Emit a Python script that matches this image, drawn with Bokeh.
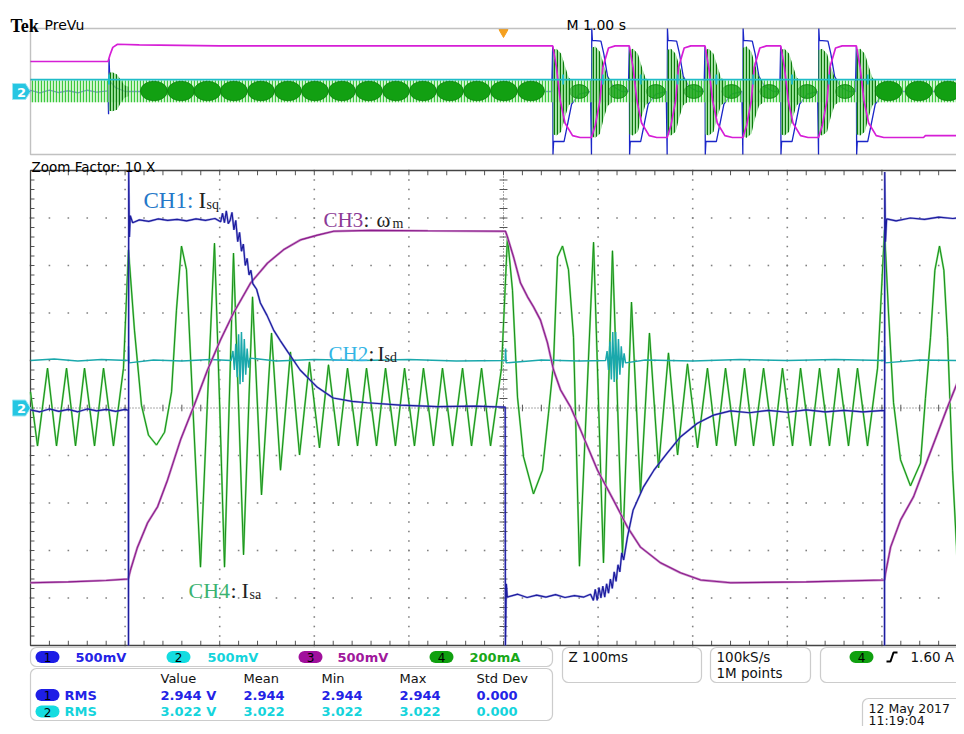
import numpy as np
from bokeh.plotting import figure
from bokeh.models import Range1d, BoxAnnotation
from bokeh.embed import file_html
from bokeh.resources import INLINE
from bokeh.core.properties import value

# ======================= DATA =======================
# Zoom window (Z 100 ms/div): time in ms from the left graticule edge, value in divisions
CH1_MAIN = [
    (0, -0.04), (10, -0.08), (20, -0.02), (30, -0.07), (40, -0.03), (50, -0.08), (60, -0.02), (70, -0.06),
    (80, -0.03), (90, -0.07), (100, -0.03), (103.4, -0.05),
    (103.6, -5.0), (103.8, 4.97), (104.6, 3.6), (105.5, 4.05), (108, 3.9), (115, 3.96), (125, 3.93), (135, 3.98),
    (145, 3.95), (155, 3.97), (165, 3.94), (175, 3.98), (185, 3.95), (195, 3.99),
    (201, 3.92), (203, 4.1), (205, 3.9), (207, 4.15), (209, 3.88), (211, 3.95), (213, 4.12), (215, 3.75),
    (217, 3.95), (219, 3.5), (221, 3.7), (223, 3.3), (225, 3.45), (227, 3.0), (229, 3.15), (231, 2.8),
    (233, 2.9), (235, 2.62), (239, 2.5), (243, 2.21), (250, 1.95), (257, 1.64), (264, 1.42), (272, 1.18),
    (285, 0.80), (303, 0.44), (320, 0.21), (340, 0.14), (356, 0.11), (391, 0.06), (430, 0.03), (470, 0.04),
    (501.8, 0.02),
    (502.0, -5.0), (503.0, -3.7), (504, -3.98), (515, -3.92), (525, -3.99), (535, -3.94), (545, -3.98),
    (555, -3.93), (565, -3.99), (575, -3.95), (585, -3.98), (592, -3.92),
    (595, -4.05), (597, -3.82), (599, -4.05), (601, -3.78), (603, -4.0), (605, -3.75), (607, -3.98),
    (609, -3.7), (611, -3.9), (613, -3.6), (615, -3.8), (617, -3.45), (619, -3.65), (621, -3.3), (623, -3.45),
    (625, -3.05), (627, -3.2), (631, -2.72), (637, -2.15), (648, -1.66), (659, -1.31), (673, -0.95),
    (687, -0.61), (705, -0.32), (722, -0.15), (740, -0.06), (760, -0.1), (780, -0.05), (800, -0.09),
    (820, -0.04), (840, -0.08), (860, -0.05), (880, -0.08), (902.6, -0.05),
    (902.8, -5.0), (903.0, 4.97), (903.8, 3.5), (905, 3.98), (915, 3.94), (930, 4.0), (945, 3.97),
    (960, 4.02), (975, 3.99), (990, 4.02),
]
CH2_MAIN = [
    (0, 1.0), (25, 1.03), (50, 0.99), (75, 1.02), (103.4, 1.0), (103.6, 1.3), (104.2, 0.95), (130, 1.01),
    (160, 0.99), (190, 1.02), (212, 1.0),
    (214, 1.2), (215.5, 0.8), (217, 1.35), (218.5, 0.65), (220, 1.55), (221.5, 0.5), (223, 1.6), (224.5, 0.55),
    (226, 1.45), (227.5, 0.7), (229, 1.25), (230.5, 0.85), (232, 1.05),
    (260, 0.99), (300, 1.02), (350, 1.0), (400, 1.02), (450, 0.99), (501.8, 1.0), (502.2, 1.25), (502.8, 0.95),
    (540, 1.01), (580, 0.99), (608, 1.0),
    (609.5, 1.2), (611, 0.8), (612.5, 1.4), (614, 0.6), (615.5, 1.6), (617, 0.55), (618.5, 1.6), (620, 0.6),
    (621.5, 1.45), (623, 0.7), (624.5, 1.3), (626, 0.85), (627.5, 1.15), (629, 0.95),
    (650, 1.01), (700, 0.99), (750, 1.02), (800, 1.0), (850, 1.02), (902.6, 1.0), (902.8, 1.3), (903.4, 0.95),
    (940, 1.01), (990, 1.0),
]
CH3_MAIN = [
    (0, -3.68), (40, -3.66), (80, -3.63), (103.4, -3.6),
    (105.7, -3.41), (113.1, -2.93), (123.7, -2.42), (134.3, -2.08), (144.8, -1.52), (158.6, -0.67),
    (172.3, 0.02), (187.1, 0.80), (200.8, 1.43), (214.6, 2.0), (232.6, 2.63), (250.5, 3.05), (267.4, 3.33),
    (285.4, 3.54), (303.4, 3.64), (320.3, 3.72), (360, 3.74), (420, 3.73), (502.1, 3.72),
    (504.2, 3.60), (510.6, 3.18), (518, 2.63), (525.4, 2.34), (531.7, 2.13), (539.1, 1.85), (546.5, 1.37),
    (552.9, 0.80), (560.3, 0.38), (570.9, 0.02), (581.4, -0.46), (599.4, -1.31), (616.3, -1.94),
    (631.1, -2.51), (644.8, -2.93), (666, -3.26), (687.1, -3.47), (708.3, -3.62), (740, -3.68),
    (820, -3.66), (902.8, -3.62),
    (903.9, -3.47), (909.2, -2.93), (919.7, -2.36), (933.4, -1.87), (948.2, -1.09), (969.4, 0.02), (986.3, 0.86),
]
CH4_MAIN = [
    (0, 0.34), (7.4, -0.80), (18.0, 0.84), (27.5, -0.80), (38.1, 0.84), (47.6, -0.80), (57.1, 0.84),
    (67.7, -0.80), (77.2, 0.84), (87.7, -0.80), (98.3, 0.84),
    (103.6, 3.33), (109.9, 1.64), (117.3, 0.06), (124.7, -0.57), (133.2, -0.78), (141.7, -0.51), (149.1, 0.34),
    (154.3, 2.06), (159.6, 3.41), (164.9, 2.91), (171.3, 0.17), (179.7, -3.35), (187.1, 0.17), (194.5, 3.47),
    (199.8, 0.17), (205.1, -3.35), (214.6, 3.26), (225.2, -3.09), (234.7, 2.34), (244.2, -1.83),
    (254.8, 1.58), (264.3, -1.31), (274.8, 1.18), (284.4, -0.99), (294.9, 0.97), (305.5, -0.84), (315.0, 0.91),
    (325.6, -0.80), (335.1, 0.84), (345.7, -0.80), (355.2, 0.84), (365.8, -0.80), (375.3, 0.84),
    (385.8, -0.80), (395.4, 0.84), (405.9, -0.80), (415.4, 0.84), (426.0, -0.80), (435.5, 0.84),
    (446.1, -0.80), (456.7, 0.84), (466.2, -0.80), (476.8, 0.84), (486.3, -0.80), (497.9, 0.84),
    (504.2, 3.60), (509.5, 2.48), (514.8, 0.23), (521.2, -1.03), (531.7, -1.81), (541.2, -1.31),
    (547.6, -0.11), (552.9, 0.95), (557.1, 3.18), (562.4, 3.41), (568.7, 2.91), (574.0, 1.49), (580.3, -3.33),
    (595.2, 3.49), (605.7, -3.26), (615.2, 3.31), (625.8, -3.09), (635.3, 2.23), (644.8, -1.79),
    (654.3, 1.58), (663.9, -1.26), (674.4, 1.16), (684.0, -0.99), (694.5, 0.93), (705.1, -0.84), (715.6, 0.84),
    (725.2, -0.80), (734.7, 0.84), (745.3, -0.80), (754.8, 0.84), (764.3, -0.80), (774.9, 0.84),
    (785.4, -0.80), (794.9, 0.84), (805.5, -0.80), (814.0, 0.84), (824.5, -0.80), (834.1, 0.84),
    (844.6, -0.80), (854.1, 0.84), (864.7, -0.80), (874.2, 0.84), (884.8, -0.80), (895.4, 0.84),
    (902.8, 3.75), (907.0, 2.0), (912.3, 0.11), (919.7, -1.09), (930.2, -1.64), (940.8, -1.16), (946.0, 0.2),
    (951.4, 1.49), (956.0, 2.9), (960.9, 3.41), (965.5, 2.9), (969.4, 1.49), (974.7, -1.31), (980.0, -3.35),
    (986.3, -2.0),
]

# PreVu record (M 1.00 s/div): time in s, value in divisions
P_CH3 = [
    (0, 2.38), (0.82, 2.38), (0.84, 2.9), (0.87, 3.5), (0.92, 3.75), (1.15, 3.7), (2.0, 3.62), (5.52, 3.62),
    (5.56, 1.9), (5.60, -0.7), (5.65, -2.5), (5.73, -3.5), (5.81, -3.65), (5.93, -3.65),
    (5.97, -2.7), (6.02, -0.7), (6.05, 1.9), (6.11, 3.45), (6.18, 3.62), (6.33, 3.62),
    (6.37, 1.9), (6.41, -0.7), (6.46, -2.5), (6.54, -3.5), (6.62, -3.65), (6.73, -3.65),
    (6.77, -2.7), (6.82, -0.7), (6.85, 1.9), (6.91, 3.45), (6.98, 3.62), (7.13, 3.62),
    (7.17, 1.9), (7.21, -0.7), (7.26, -2.5), (7.34, -3.5), (7.42, -3.65), (7.53, -3.65),
    (7.57, -2.7), (7.62, -0.7), (7.65, 1.9), (7.71, 3.45), (7.78, 3.62), (7.93, 3.62),
    (7.97, 1.9), (8.01, -0.7), (8.06, -2.5), (8.14, -3.5), (8.22, -3.65), (8.33, -3.65),
    (8.37, -2.7), (8.42, -0.7), (8.45, 1.9), (8.51, 3.45), (8.58, 3.62), (8.73, 3.62),
    (8.77, 1.9), (8.81, -0.7), (8.86, -2.5), (8.94, -3.5), (9.02, -3.65), (9.44, -3.65), (9.46, -3.5), (10.3, -3.5),
]
P_CH1 = [
    (0, 0.08), (0.1, -0.1), (0.2, 0.1), (0.3, -0.08), (0.4, 0.06), (0.5, -0.1), (0.6, 0.1), (0.7, -0.05),
    (0.82, 0.05), (0.825, -1.8), (0.83, 2.6), (0.84, 0.8), (0.9, 0.3), (1.0, 0.0), (5.51, 0.0),
    (5.52, 3.6), (5.523, -5.0), (5.53, -3.97), (5.64, -3.97), (5.68, -2.5), (5.72, -1.0), (5.8, -0.2), (5.92, 0.0),
    (5.93, -5.0), (5.933, 5.0), (5.94, 4.05), (6.03, 4.0), (6.06, 3.0), (6.1, 1.2), (6.16, 0.4), (6.25, 0.0), (6.32, 0.0),
    (6.33, 3.6), (6.333, -5.0), (6.34, -3.97), (6.45, -3.97), (6.49, -2.5), (6.53, -1.0), (6.61, -0.2), (6.72, 0.0),
    (6.73, -5.0), (6.733, 5.0), (6.74, 4.05), (6.83, 4.0), (6.86, 3.0), (6.9, 1.2), (6.96, 0.4), (7.05, 0.0), (7.12, 0.0),
    (7.13, 3.6), (7.133, -5.0), (7.14, -3.97), (7.25, -3.97), (7.29, -2.5), (7.33, -1.0), (7.41, -0.2), (7.52, 0.0),
    (7.53, -5.0), (7.533, 5.0), (7.54, 4.05), (7.63, 4.0), (7.66, 3.0), (7.7, 1.2), (7.76, 0.4), (7.85, 0.0), (7.92, 0.0),
    (7.93, 3.6), (7.933, -5.0), (7.94, -3.97), (8.05, -3.97), (8.09, -2.5), (8.13, -1.0), (8.21, -0.2), (8.32, 0.0),
    (8.33, -5.0), (8.333, 5.0), (8.34, 4.05), (8.43, 4.0), (8.46, 3.0), (8.5, 1.2), (8.56, 0.4), (8.65, 0.0), (8.72, 0.0),
    (8.73, 3.6), (8.733, -5.0), (8.74, -3.97), (8.85, -3.97), (8.89, -2.5), (8.93, -1.0), (9.01, -0.2), (9.12, 0.0),
    (10.3, 0.0),
]
P_CH2_LEVEL = 0.95
P_CH2_SPIKES = [0.83, 5.63, 6.05, 6.45, 6.84, 7.25, 7.64, 8.05, 8.44, 8.85]
# CH4 in the PreVu: envelope band, beat lenses, and bursts at every speed step
P_BAND_T = [0.0, 10.3]
P_BAND_HI = [0.87, 0.87]
P_BAND_LO = [-0.85, -0.85]
P_LENS_T = [1.305, 1.591, 1.871, 2.151, 2.437, 2.722, 3.007, 3.293, 3.578, 3.864, 4.149, 4.434, 4.720,
            5.005, 5.291, 9.07, 9.39, 9.70, 10.02]
P_LENS_SMALL_T = [5.80, 6.21, 6.61, 7.01, 7.41, 7.81, 8.21, 8.61]
P_BURST_T = [0.825, 5.52, 5.93, 6.33, 6.73, 7.13, 7.53, 7.93, 8.33, 8.73]
P_BURST_AMP = [0.45, 1.0, 1.05, 1.0, 1.0, 1.0, 1.05, 1.0, 1.0, 1.0]
BURST_DT = [0.0, 0.04, 0.09, 0.13, 0.17, 0.21]
BURST_HI = [3.3, 3.4, 3.0, 2.0, 1.1, 0.85]
BURST_LO = [-3.4, -3.5, -3.2, -2.0, -1.1, -0.85]

STATUS_CH = ["1", "2", "3", "4"]
STATUS_SCALE = ["500mV", "500mV", "500mV", "200mA"]
MEAS_HEAD = ["Value", "Mean", "Min", "Max", "Std Dev"]
MEAS_ROW1 = ["2.944 V", "2.944", "2.944", "2.944", "0.000"]
MEAS_ROW2 = ["3.022 V", "3.022", "3.022", "3.022", "0.000"]

# ======================= LAYOUT =======================
FX0, FX1, FY0, FY1 = 0, 956, 0, 726           # screen pixels covered by the figure
MX0, MX1, MY0, MY1 = 30, 976, 170, 645        # zoom graticule box
PX0, PX1, PY0, PY1 = 30, 976, 28, 154         # PreVu box

C_BLUE, C_CYAN, C_PURP, C_GREEN = "#1c1c9e", "#1aa8ac", "#8b1c8b", "#178c17"
S_BLUE, S_CYAN, S_PURP, S_GREEN = "#2323e6", "#14d4dc", "#a0189c", "#18a818"
GRID = "#808080"

p = figure(width=FX1 - FX0, height=FY1 - FY0, x_range=Range1d(FX0, FX1), y_range=Range1d(FY1, FY0),
           output_backend="svg", toolbar_location=None, min_border=0,
           x_axis_location=None, y_axis_location=None, outline_line_color=None)
p.grid.visible = False
p.background_fill_color = "white"
p.border_fill_color = "white"


def lin_range(v_a, v_b, px_a, px_b, f_lo, f_hi):
    k = (v_b - v_a) / (px_b - px_a)
    return Range1d(v_a + (f_lo - px_a) * k, v_a + (f_hi - px_a) * k)


p.extra_x_ranges = {"mt": lin_range(0, 1000, MX0, MX1, FX0, FX1),
                    "pt": lin_range(0, 10, PX0, PX1, FX0, FX1)}
p.extra_y_ranges = {"mv": lin_range(-5, 5, MY1, MY0, FY1, FY0),
                    "pv": lin_range(-5, 5, PY1, PY0, FY1, FY0)}
M = dict(x_range_name="mt", y_range_name="mv")
P = dict(x_range_name="pt", y_range_name="pv")


def unzip(pairs):
    return [a for a, _ in pairs], [b for _, b in pairs]


# ---------------- zoom graticule ----------------
tick_t = np.arange(0, 1000.01, 20)
tick_v = np.arange(-5, 5.001, 0.2)
gx, gy = [], []
for v in range(-4, 5):
    if v == 0:
        continue
    gx += list(tick_t)
    gy += [v] * len(tick_t)
for t in range(100, 1000, 100):
    if t == 500:
        continue
    gx += [t] * len(tick_v)
    gy += list(tick_v)
p.scatter(gx, gy, marker="square", size=1.6, color=GRID, line_color=None, **M)
p.line([0, 1000], [0, 0], line_color="#555", line_dash="1 2", line_width=1, **M)
p.line([500, 500], [-5, 5], line_color="#555", line_dash="1 2", line_width=1, **M)
p.segment(x0=tick_t, y0=[-0.07] * len(tick_t), x1=tick_t, y1=[0.07] * len(tick_t), line_color="#555", **M)
p.segment(x0=[495.8] * len(tick_v), y0=tick_v, x1=[504.2] * len(tick_v), y1=tick_v, line_color="#555", **M)
p.segment(x0=tick_t, y0=[-5] * len(tick_t), x1=tick_t, y1=[-4.9] * len(tick_t), line_color="#555", **M)
p.segment(x0=tick_t, y0=[5] * len(tick_t), x1=tick_t, y1=[4.9] * len(tick_t), line_color="#555", **M)
p.segment(x0=[0] * len(tick_v), y0=tick_v, x1=[4.2] * len(tick_v), y1=tick_v, line_color="#555", **M)
p.multi_line([[1100, 0, 0, 1100]], [[5, 5, -5, -5]], line_color="#444", line_width=1.3, **M)

# ---------------- zoom traces ----------------
t4, v4 = unzip(CH4_MAIN)
p.line(t4, v4, line_color="#86de86", line_width=2.0, **M)
p.line(t4, v4, line_color=C_GREEN, line_width=1.0, **M)
t2, v2 = unzip(CH2_MAIN)
p.line(t2, v2, line_color=C_CYAN, line_width=1.5, **M)
t3, v3 = unzip(CH3_MAIN)
p.line(t3, v3, line_color="#c98cc9", line_width=2.4, **M)
p.line(t3, v3, line_color=C_PURP, line_width=1.1, **M)
t1, v1 = unzip(CH1_MAIN)
p.line(t1, v1, line_color="#6a6ad0", line_width=2.2, line_alpha=0.6, **M)
p.line(t1, v1, line_color=C_BLUE, line_width=1.2, **M)

# ---------------- PreVu ----------------
pt1, pv1 = unzip(P_CH1)
p.line(pt1, pv1, line_color="#1a26c8", line_width=1.3, **P)
p.varea(x=P_BAND_T, y1=P_BAND_LO, y2=P_BAND_HI, fill_color="#b8efb8", fill_alpha=0.6,
        hatch_pattern="vertical_line", hatch_color="#3cc83c", hatch_scale=3, hatch_weight=1.2, **P)
p.ellipse(x=P_LENS_T, y=[0.04] * len(P_LENS_T), width=0.284, height=1.55,
          fill_color="#12a012", line_color="#0c800c", line_width=0.8, **P)
p.ellipse(x=P_LENS_SMALL_T, y=[0.0] * len(P_LENS_SMALL_T), width=0.2, height=1.1,
          fill_color="#12a012", line_color="#0c800c", line_width=0.8, fill_alpha=0.8, **P)
bxs, bys = [], []
for T, a in zip(P_BURST_T, P_BURST_AMP):
    bxs.append([T + d for d in BURST_DT] + [T + d for d in reversed(BURST_DT)])
    bys.append([a * h for h in BURST_HI] + [a * l for l in reversed(BURST_LO)])
p.patches(bxs, bys, fill_color="#6fd46f", fill_alpha=0.55, line_color=None,
          hatch_pattern="vertical_line", hatch_color="#0a7a0a", hatch_scale=3, hatch_weight=1.3, **P)
pt3, pv3 = unzip(P_CH3)
p.line(pt3, pv3, line_color="#d61ed6", line_width=1.7, **P)
p.line([0, 10.3], [P_CH2_LEVEL, P_CH2_LEVEL], line_color="#1ebcc8", line_width=1.8, **P)
p.segment(x0=P_CH2_SPIKES, y0=[P_CH2_LEVEL - 0.4] * len(P_CH2_SPIKES), x1=P_CH2_SPIKES,
          y1=[P_CH2_LEVEL + 0.4] * len(P_CH2_SPIKES), line_color="#1ebcc8", line_width=2, **P)
p.scatter([5.0], [4.7], marker="inverted_triangle", size=9, fill_color="#f5a020", line_color="#f5a020", **P)

p.add_layout(BoxAnnotation(left=PX0, right=PX1 + 20, top=PY0, bottom=PY1, fill_color=None,
                           line_color="#333", line_width=1.4))

# channel-2 ground markers
for yc in [(PY0 + PY1) / 2, (MY0 + MY1) / 2]:
    p.patch([12, 25, 30, 25, 12], [yc - 8, yc - 8, yc, yc + 8, yc + 8], fill_color="#26c6e2",
            line_color="#9be6f2", line_width=1)
    p.text([16.5], [yc + 0.5], text=["2"], text_color="white", text_font=value("DejaVu Sans"),
           text_font_style="bold", text_font_size=value("13px"), text_baseline="middle")

# ---------------- header texts ----------------
p.text([10], [25], text=["Tek"], text_font=value("Liberation Serif"), text_font_style="bold",
       text_font_size=value("18px"), text_color="black", text_baseline="alphabetic")
p.text([44], [24], text=["PreVu"], text_font=value("DejaVu Sans"), text_font_size=value("14px"),
       text_color="black", text_baseline="alphabetic")
p.text([566], [24], text=["M 1.00 s"], text_font=value("DejaVu Sans"), text_font_size=value("14px"),
       text_color="black", text_baseline="alphabetic")
p.text([31], [166], text=["Zoom Factor: 10 X"], text_font=value("DejaVu Sans"),
       text_font_size=value("13.5px"), text_color="black", text_baseline="alphabetic")

# ---------------- trace labels ----------------
SERIF = value("Liberation Serif")
labels = [
    # (x, baseline, text, color, size)
    (143, 200, "CH1:", "#2478c8", "23px"), (198, 200, "I", "#222", "23px"), (206, 204, "sq", "#222", "14px"),
    (323, 219, "CH3", "#8b3a96", "21px"), (363, 219, ":", "#222", "21px"), (376, 219, "\u03c9", "#222", "21px"),
    (392, 223, "m", "#222", "14px"),
    (328, 353, "CH2", "#33b5e5", "21px"), (368, 353, ":", "#222", "21px"), (377, 353, "I", "#222", "21px"),
    (384, 357, "sd", "#222", "14px"),
    (188, 590, "CH4", "#3cb371", "22px"), (230, 590, ":", "#222", "22px"), (241, 590, "I", "#222", "22px"),
    (249, 594, "sa", "#222", "14px"),
]
for x, y, s, c, fs in labels:
    p.text([x], [y], text=[s], text_color=c, text_font=SERIF, text_font_size=value(fs),
           text_baseline="alphabetic")

# ---------------- status area ----------------
def rbox(l, r, t, b, rad=6):
    p.add_layout(BoxAnnotation(left=l, right=r, top=t, bottom=b, fill_color=None, line_color="#555",
                               line_width=1.2, border_radius=rad))


def badge(xc, yc, color, label):
    p.add_layout(BoxAnnotation(left=xc - 12, right=xc + 12, top=yc - 6, bottom=yc + 6, fill_color=color,
                               fill_alpha=1, line_color=None, border_radius=6, level="underlay"))
    p.text([xc], [yc + 0.5], text=[label], text_color="black", text_font=value("DejaVu Sans"),
           text_font_size=value("12px"), text_align="center", text_baseline="middle")


SANS = value("DejaVu Sans")
rbox(30, 552, 647, 666)
ch_cols = [S_BLUE, S_CYAN, S_PURP, S_GREEN]
badge_fill = ["#1e1ee6", "#14dce0", "#a0109c", "#10a010"]
for xc, xt, lab, sc, col, bf in zip([47, 178, 310, 441], [75, 207, 337, 469], STATUS_CH, STATUS_SCALE,
                                    ch_cols, badge_fill):
    badge(xc, 656.5, bf, lab)
    p.text([xt], [656.5], text=[sc], text_color=col, text_font=SANS, text_font_style="bold",
           text_font_size=value("13px"), text_baseline="middle")

rbox(30, 552, 668, 720)
mcols = [160, 243, 321, 399, 476]
p.text(mcols, [677.5] * 5, text=MEAS_HEAD, text_color="#111", text_font=SANS,
       text_font_size=value("13px"), text_baseline="middle")
for yr, row, col, bf, lab in [(694.5, MEAS_ROW1, S_BLUE, "#1e1ee6", "1"), (711, MEAS_ROW2, S_CYAN, "#14dce0", "2")]:
    badge(47, yr, bf, lab)
    p.text([64], [yr], text=["RMS"], text_color=col, text_font=SANS, text_font_style="bold",
           text_font_size=value("13px"), text_baseline="middle")
    p.text(mcols, [yr] * 5, text=row, text_color=col, text_font=SANS, text_font_style="bold",
           text_font_size=value("13px"), text_baseline="middle")

rbox(562, 701, 647, 682)
p.text([568], [656.5], text=["Z 100ms"], text_color="#111", text_font=SANS,
       text_font_size=value("13.5px"), text_baseline="middle")
rbox(710, 810, 647, 682)
p.text([716, 716], [656.5, 672.5], text=["100kS/s", "1M points"], text_color="#111", text_font=SANS,
       text_font_size=value("13.5px"), text_baseline="middle")
rbox(820, 1000, 647, 682)
badge(861, 656.5, "#10a010", "4")
p.line([886, 890, 893, 897], [661, 661, 652, 652], line_color="black", line_width=2)
p.text([910], [656.5], text=["1.60 A"], text_color="#111", text_font=SANS,
       text_font_size=value("13.5px"), text_baseline="middle")
rbox(862, 1000, 698, 750)
p.text([868, 868], [707.5, 719.5], text=["12 May 2017", "11:19:04"], text_color="#111", text_font=SANS,
       text_font_size=value("12.5px"), text_baseline="middle")

open("out.html", "w").write(file_html(p, INLINE))
